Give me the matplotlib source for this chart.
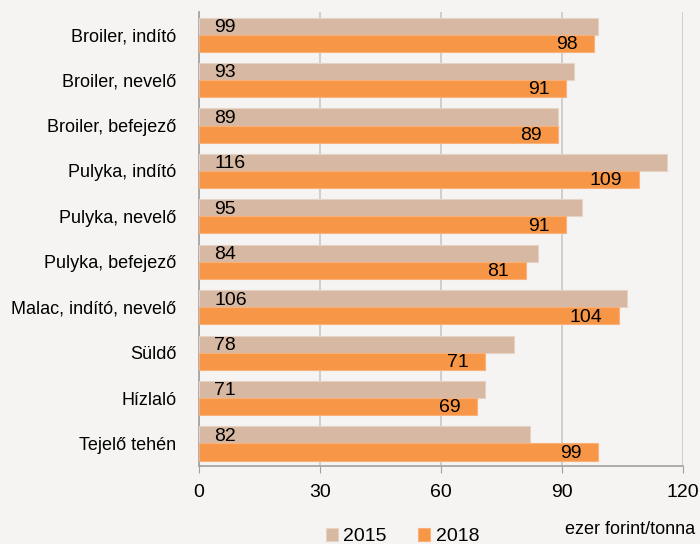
import numpy as np
import matplotlib.pyplot as plt

categories = ["Broiler, indító", "Broiler, nevelő", "Broiler, befejező",
              "Pulyka, indító", "Pulyka, nevelő", "Pulyka, befejező",
              "Malac, indító, nevelő", "Süldő", "Hízlaló", "Tejelő tehén"]
v2015 = [99, 93, 89, 116, 95, 84, 106, 78, 71, 82]
v2018 = [98, 91, 89, 109, 91, 81, 104, 71, 69, 99]
xticks = [0, 30, 60, 90, 120]

plt.rcParams['font.family'] = ['Liberation Sans', 'DejaVu Sans']

bg = '#F5F4F2'
c15 = '#D7B8A2'
c18 = '#F79646'

fig = plt.figure(figsize=(7, 5.44), dpi=100, facecolor=bg)
ax = fig.add_axes([0.284, 0.143, 0.692, 0.835], facecolor=bg)

y = np.arange(len(categories))
h = 0.375
b1 = ax.barh(y - h / 2, v2015, height=h, color=c15, edgecolor='#E6D3C5', linewidth=0.8, zorder=3)
b2 = ax.barh(y + h / 2, v2018, height=h, color=c18, edgecolor='#F9B07A', linewidth=0.8, zorder=3)

# 2015 labels near the base, 2018 labels inside the bar end
for yi, v in zip(y, v2015):
    ax.text(3.8, yi - h / 2 + 0.03, str(v), ha='left', va='center', fontsize=14, zorder=4)
for yi, v in zip(y, v2018):
    ax.annotate(str(v), (v, yi + h / 2 + 0.03), xytext=(-12, 0), textcoords='offset points',
                ha='right', va='center', fontsize=14, zorder=4)

ax.set_xlim(0, 120)
ax.set_ylim(len(categories) - 0.5, -0.5)
ax.set_yticks(y)
ax.set_yticklabels(categories, fontsize=13)
ax.set_xticks(xticks)
ax.set_xticklabels([str(t) for t in xticks], fontsize=14)
ax.tick_params(axis='y', length=0, pad=16)
ax.tick_params(axis='x', length=5, color='#A0A0A0', pad=8)
ax.grid(axis='x', color='#C8C8C8', linewidth=1.2, zorder=0)
for s in ['top', 'right']:
    ax.spines[s].set_visible(False)
for s in ['left', 'bottom']:
    ax.spines[s].set_color('#A0A0A0')
    ax.spines[s].set_linewidth(1.2)

fig.text(0.993, 0.026, "ezer forint/tonna", ha='right', va='center', fontsize=13)
fig.legend([b1, b2], ["2015", "2018"], loc='center', bbox_to_anchor=(0.575, 0.013),
           ncol=2, frameon=False, fontsize=14, handlelength=0.6, handleheight=0.6,
           columnspacing=1.6, handletextpad=0.3, borderpad=0)

fig.savefig("out.png", dpi=100, facecolor=bg)
